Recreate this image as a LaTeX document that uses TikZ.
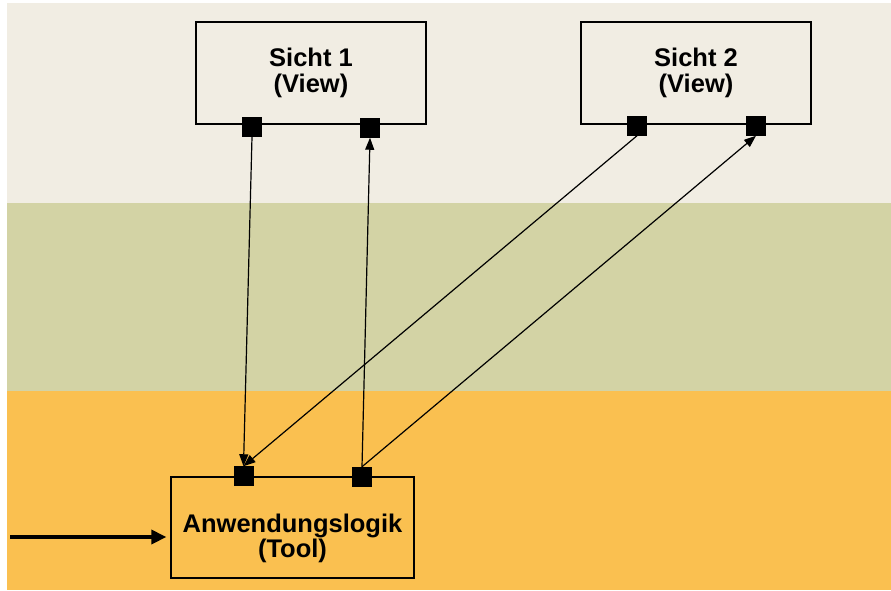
\documentclass[tikz,border=0pt]{standalone}
\usepackage{fontspec}
\setmainfont{Liberation Sans}
\usetikzlibrary{arrows.meta}
\definecolor{bandA}{HTML}{F1EDE3}
\definecolor{bandB}{HTML}{D3D3A5}
\definecolor{bandC}{HTML}{FAC050}
\tikzset{
  box/.style={draw=black,line width=1.3pt,minimum width=230pt,minimum height=102pt,inner sep=0pt,align=center,font=\bfseries\fontsize{25.5}{25.5}\selectfont},
  label text/.style={inner sep=0pt,align=center,font=\bfseries\fontsize{25.5}{25.5}\selectfont},
  port/.style={fill=black,draw=black,line width=0.5pt,minimum width=19pt,minimum height=19pt,inner sep=0pt},
  conn/.style={line width=1.2pt,-{Triangle[length=12pt,width=9pt]}},
  inarrow/.style={line width=3.5pt,-{Triangle[length=15pt,width=14pt]}}
}
\begin{document}
\begin{tikzpicture}[x=1pt,y=-1pt]
\useasboundingbox (0,0) rectangle (891,590);
\fill[white] (0,0) rectangle (891,590);
\fill[bandA] (7,3) rectangle (891,203);
\fill[bandB] (7,203) rectangle (891,391);
\fill[bandC] (7,391) rectangle (891,590);
\node[box,fill=bandA] (s1) at (311,73) {Sicht 1\\(View)};
\node[box,fill=bandA] (s2) at (696,73) {Sicht 2\\(View)};
\node[box,fill=bandC,minimum width=243pt,minimum height=101pt] (tool) at (292.5,527.5) {};
\node[label text] (tooltxt) at ([yshift=-11pt]tool.center) {Anwendungslogik\\(Tool)};
\node[port] (s1a) at (252,127) {};
\node[port] (s1b) at (370,128) {};
\node[port] (s2a) at (637,126) {};
\node[port] (s2b) at (756,126) {};
\node[port] (ta) at (243.5,476) {};
\node[port] (tb) at (362,476.5) {};
\coordinate (src) at (10,537);
\draw[conn] (s1a.south) -- (ta.north);
\draw[conn] (s2a.south) -- (ta.north);
\draw[conn] (tb.north) -- (s1b.south);
\draw[conn] (tb.north) -- (s2b.south);
\draw[inarrow,shorten >=4pt] (src) -- (src -| tool.west);
\end{tikzpicture}
\end{document}
